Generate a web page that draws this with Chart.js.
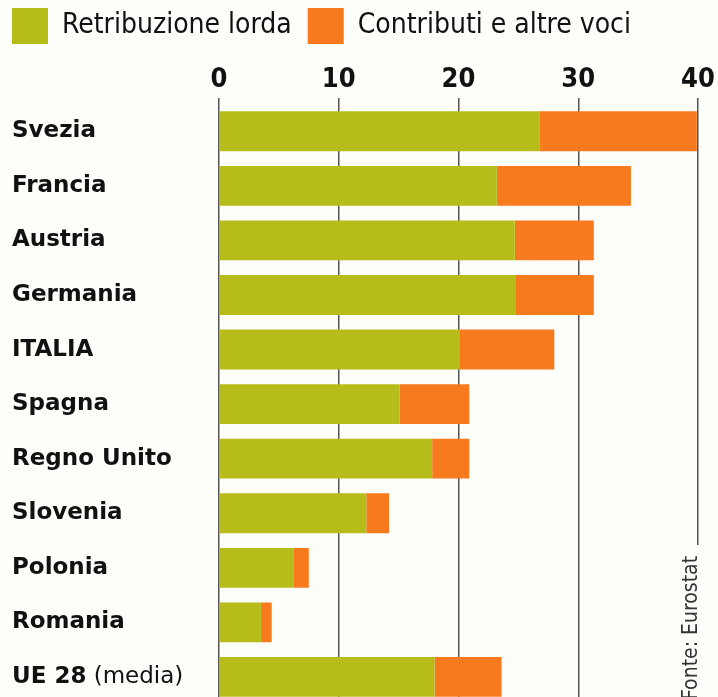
<!DOCTYPE html>
<html lang="it">
<head>
  <meta charset="UTF-8">
  <title>Costo del lavoro</title>
  <style>
    body {
      margin: 0;
      background-color: #fdfdfa;
      overflow: hidden;
    }

    .wrap {
      width: 718px;
      height: 721px;
    }
  </style>
  <script src="https://cdn.jsdelivr.net/npm/chart.js"></script>
</head>
<body>
  <div class="wrap">
    <canvas id="costChart" width="718" height="721"></canvas>
  </div>

  <script>
    const paesi = ['Svezia', 'Francia', 'Austria', 'Germania', 'ITALIA', 'Spagna',
      'Regno Unito', 'Slovenia', 'Polonia', 'Romania', 'UE 28'];
    const retribuzione = [26.8, 23.2, 24.7, 24.8, 20.1, 15.1, 17.8, 12.3, 6.2, 3.5, 18.0];
    const contributi = [13.1, 11.2, 6.6, 6.5, 7.9, 5.8, 3.1, 1.9, 1.3, 0.9, 5.6];
    const tickValori = [0, 10, 20, 30, 40];

    const labelFont = "'DejaVu Sans', sans-serif";
    const condFont = "'DejaVu Sans Condensed', 'DejaVu Sans', sans-serif";
    const legendPad = 16;

    // " (media)" after UE 28, and the source note on the right
    const extras = {
      id: 'extras',
      afterLayout(chart) {
        // legend sits flush with the labels, a bit higher
        chart.legend.left -= legendPad;
        chart.legend.top -= legendPad / 2;
      },
      afterDraw(chart) {
        const ctx = chart.ctx;
        const y = chart.scales.y;
        const idx = paesi.indexOf('UE 28');
        const py = y.getPixelForValue(idx);
        ctx.save();
        ctx.font = 'bold 23px ' + labelFont;
        const w = ctx.measureText('UE 28').width;
        ctx.font = '23px ' + labelFont;
        ctx.fillStyle = '#111';
        ctx.textBaseline = 'middle';
        ctx.textAlign = 'left';
        ctx.fillText(' (media)', y.left + w, py);

        // source, rotated (the 40 line stops above it)
        const x40 = chart.scales.x.getPixelForValue(40);
        ctx.fillStyle = '#fdfdfa';
        ctx.fillRect(x40 - 18, 545, 30, chart.height - 545);
        ctx.translate(x40 - 1, 700);
        ctx.rotate(-Math.PI / 2);
        ctx.font = '21px ' + condFont;
        ctx.fillStyle = '#333';
        ctx.textBaseline = 'alphabetic';
        ctx.fillText('Fonte: Eurostat', 0, 0);
        ctx.restore();
      }
    };

    new Chart(document.getElementById('costChart'), {
      type: 'bar',
      data: {
        labels: paesi,
        datasets: [{
          label: 'Retribuzione lorda',
          data: retribuzione,
          backgroundColor: '#b6bd1a'
        }, {
          label: 'Contributi e altre voci',
          data: contributi,
          backgroundColor: '#f87a1f'
        }]
      },
      options: {
        indexAxis: 'y',
        responsive: false,
        animation: false,
        layout: { padding: { left: 12, right: 20, top: 0, bottom: 0 } },
        datasets: {
          bar: { barPercentage: 0.73, categoryPercentage: 1 }
        },
        scales: {
          x: {
            position: 'top',
            stacked: true,
            min: 0,
            max: 40,
            afterBuildTicks(scale) {
              scale.ticks = tickValori.map(v => ({ value: v }));
            },
            afterFit(scale) { scale.height = 42; },
            grid: { color: '#555', lineWidth: 1.5, tickLength: 6 },
            border: { display: false },
            ticks: {
              color: '#111',
              padding: 2,
              font: { family: condFont, size: 27, weight: 'bold', lineHeight: 1.15 }
            }
          },
          y: {
            stacked: true,
            grid: { display: false },
            border: { display: false },
            afterFit(scale) { scale.width = 207; },
            ticks: {
              crossAlign: 'far',
              color: '#111',
              font: { family: labelFont, size: 23, weight: 'bold' }
            }
          }
        },
        plugins: {
          legend: {
            position: 'top',
            align: 'start',
            labels: {
              boxWidth: 36,
              boxHeight: 36,
              padding: legendPad,
              color: '#111',
              font: { family: condFont, size: 28 }
            }
          },
          tooltip: { enabled: false }
        }
      },
      plugins: [extras]
    });
  </script>
</body>
</html>
